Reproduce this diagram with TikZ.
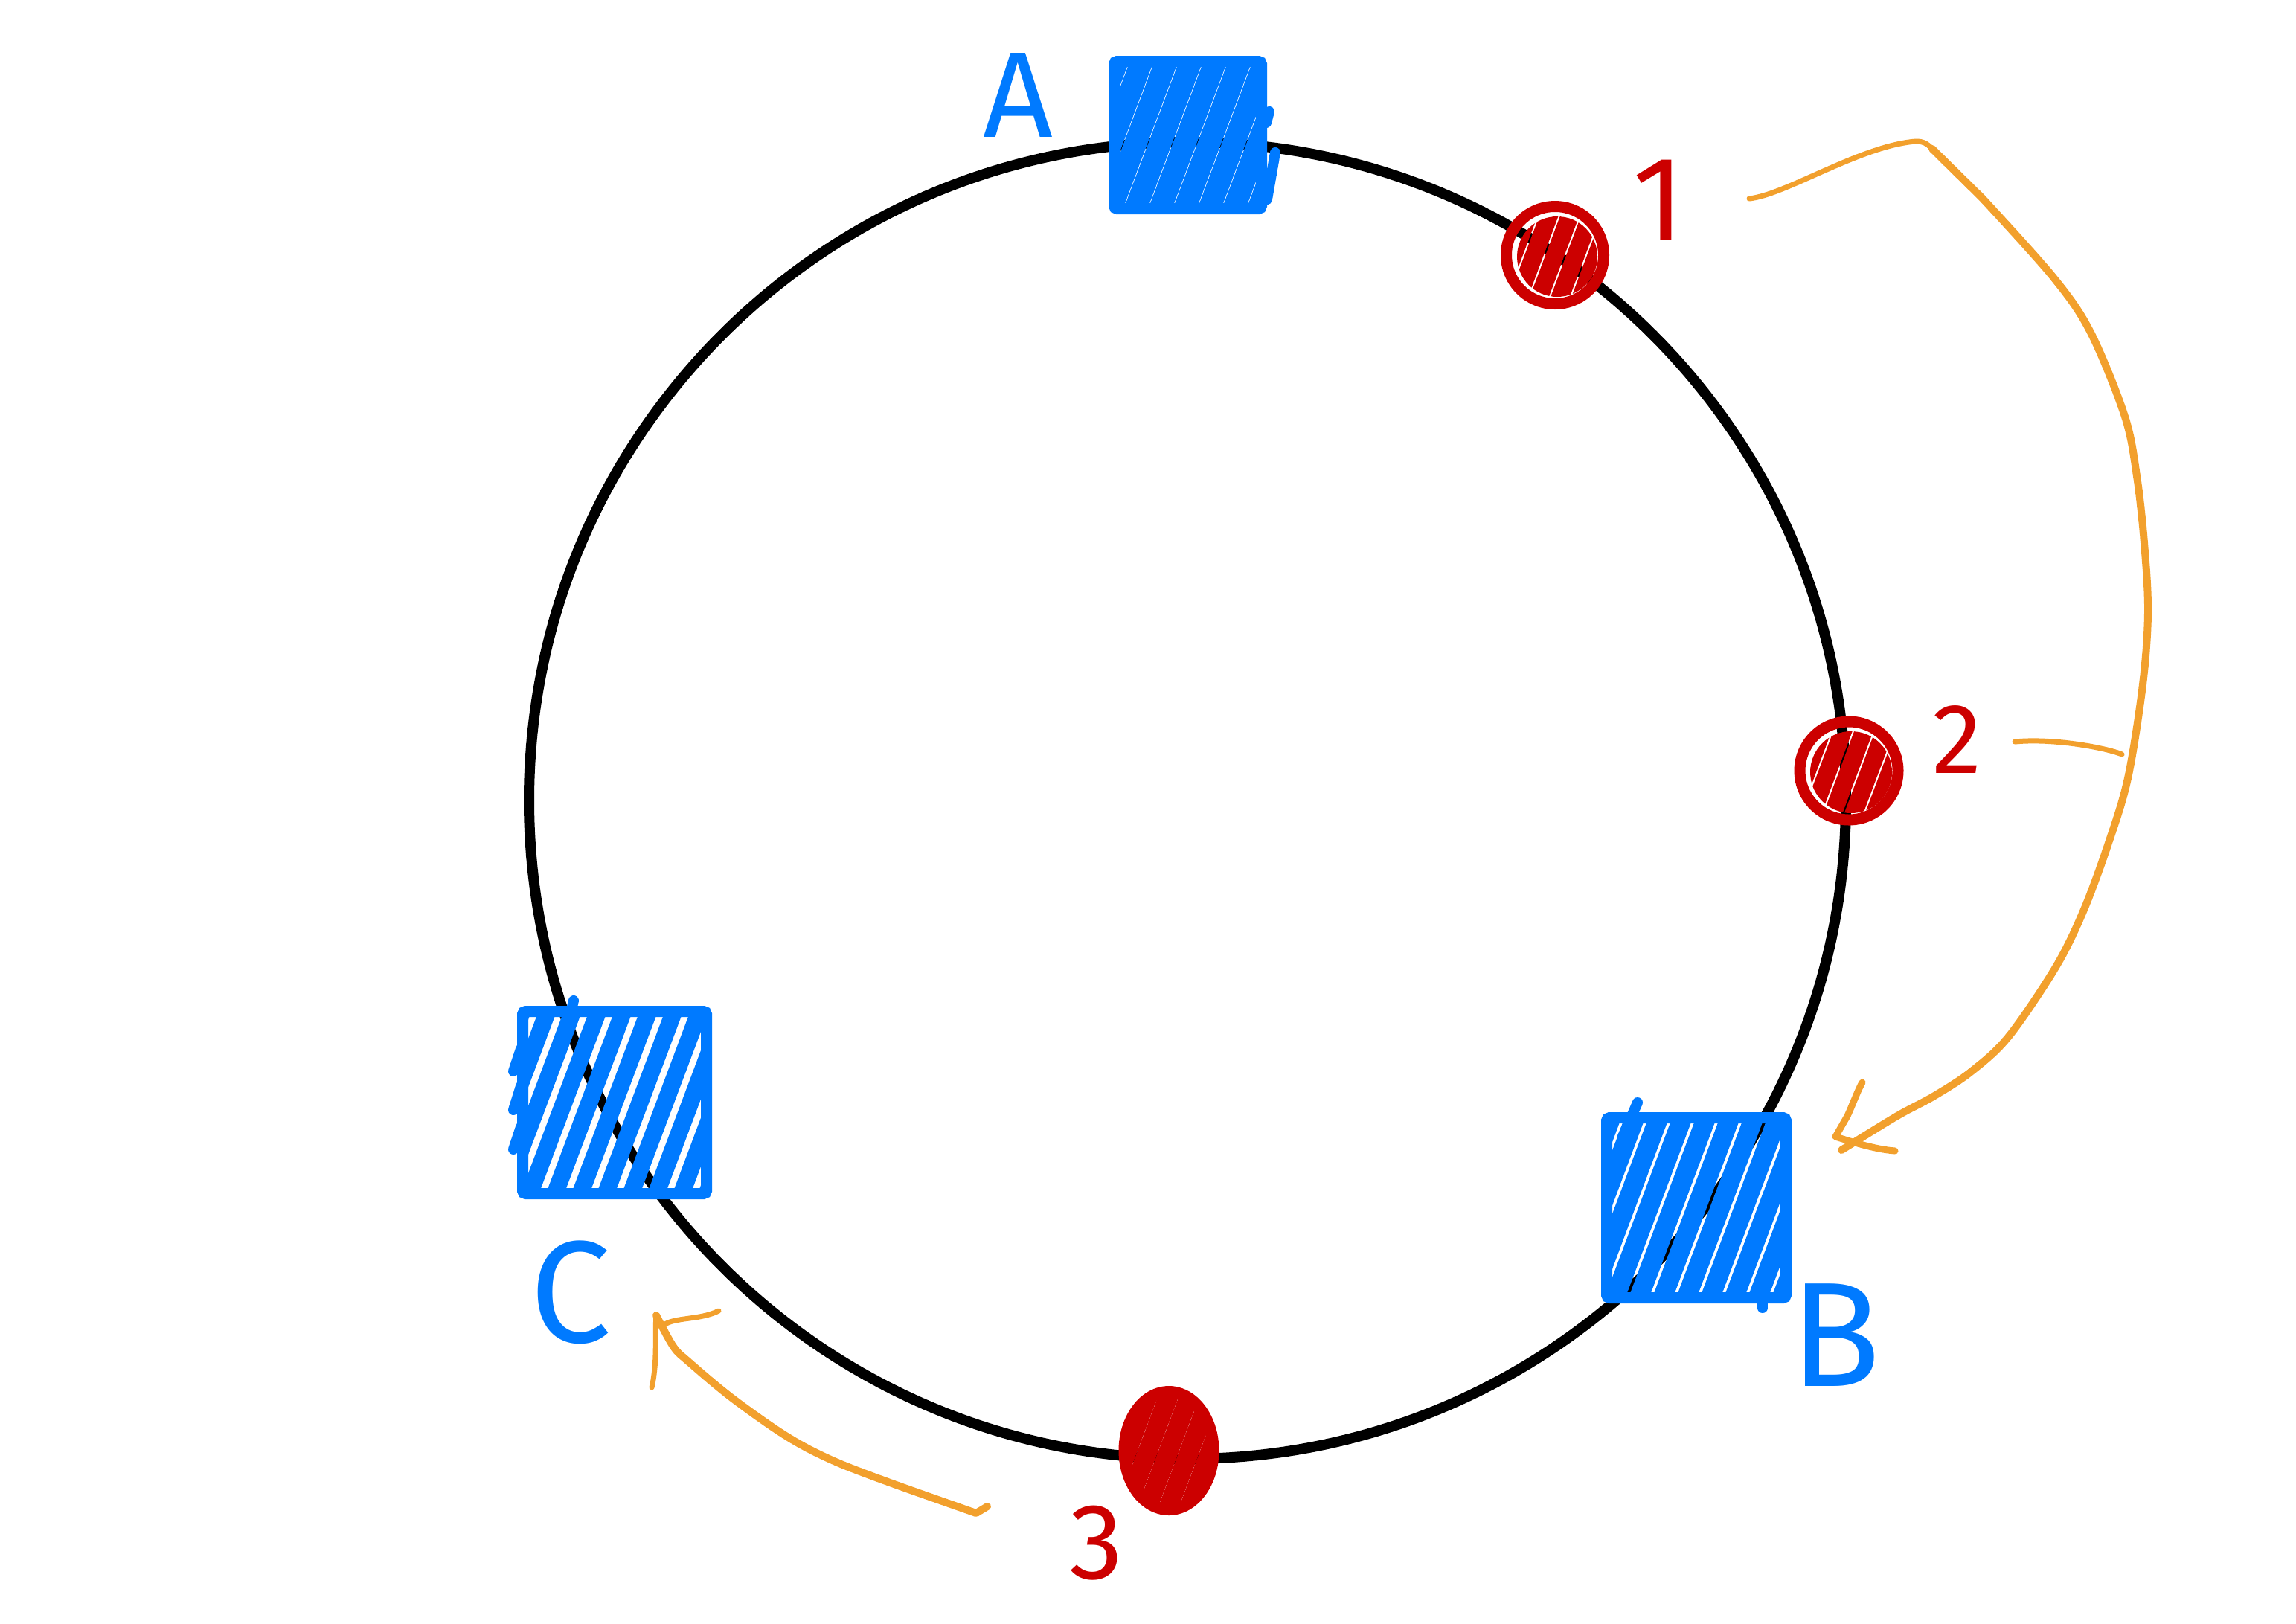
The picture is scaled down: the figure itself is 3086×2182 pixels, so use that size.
\documentclass[tikz,border=0pt]{standalone}
\usepackage{fontspec}
\setmainfont{Fira Sans}
\usetikzlibrary{shapes.geometric}
\definecolor{inkblue}{RGB}{0,122,255}
\definecolor{inkred}{RGB}{204,0,0}
\definecolor{inkorange}{RGB}{242,160,45}
\newcommand\inkhatch[3]{\begin{scope}[shift={(path picture bounding box.center)}]\foreach \k in {-12,...,12}{\draw[#1,line width=#2,line cap=round] ({\k*#3-60},160) -- ({\k*#3+60},-160);}\end{scope}}
\newcommand\inkhatchc[4]{\begin{scope}[shift={(path picture bounding box.center)}]\clip (3,2) circle (#4);\foreach \k in {-12,...,12}{\draw[#1,line width=#2,line cap=round] ({\k*#3-60},160) -- ({\k*#3+60},-160);}\end{scope}}
\begin{document}
\begin{tikzpicture}[x=1pt,y=-1pt,
  bluebox/.style={rectangle, draw=inkblue, line width=15pt, rounded corners=4pt, inner sep=0pt},
  redmark/.style={draw=inkred, line width=15pt, inner sep=0pt},
  lblue/.style={inner sep=0pt, text=inkblue},
  lred/.style={inner sep=0pt, text=inkred},
  orangeline/.style={draw=inkorange, line width=10pt, line cap=round, line join=round},
  blueink/.style={draw=inkblue, line width=14pt, line cap=round}]
\useasboundingbox (0,0) rectangle (3086,2182);
\fill[white] (0,0) rectangle (3086,2182);

% ring
\node[circle, draw=black, line width=14pt, minimum size=1770pt, inner sep=0pt] (ring) at (1596,1076) {};

% servers (blue boxes)
\node[bluebox, minimum width=198pt, minimum height=198pt,
  path picture={\inkhatch{inkblue}{30pt}{33}}] (A) at (1596.5,181.5) {};
\node[bluebox, minimum width=241pt, minimum height=242pt,
  path picture={\inkhatch{inkblue}{26pt}{32}}] (B) at (2280,1623.5) {};
\node[bluebox, minimum width=247pt, minimum height=245pt,
  path picture={\inkhatch{inkblue}{23pt}{34}}] (C) at (826,1482) {};

% stray scribble ends
\draw[blueink] (1706,150) -- (1702,165);
\draw[blueink] (1714,205) -- (1703,268);
\draw[blueink] (2201,1482) -- (2180,1530);
\draw[blueink] (2369,1740) -- (2369,1758);
\draw[blueink] (771,1345) -- (765,1370);
\draw[blueink] (690,1440) -- (700,1410);
\draw[blueink] (690,1492) -- (700,1460);
\draw[blueink] (690,1545) -- (700,1515);

% keys (red marks)
\node[redmark, circle, minimum size=131pt,
  path picture={\inkhatchc{inkred}{24pt}{28}{54}}] (n1) at (2090,343) {};
\node[redmark, circle, minimum size=132pt,
  path picture={\inkhatchc{inkred}{24pt}{28}{55}}] (n2) at (2485,1036) {};
\node[redmark, ellipse, line width=16pt, minimum width=119pt, minimum height=158pt,
  path picture={\inkhatch{inkred}{26pt}{28}}] (n3) at (1571,1950) {};

% labels
\node[lblue, font={\fontsize{164}{164}\selectfont}] (lA) at (1368,128) {A};
\node[lblue, font={\fontsize{200}{200}\selectfont}] (lB) at (2467,1795) {B};
\node[lblue, font={\fontsize{195}{195}\selectfont}] (lC) at (767,1737) {C};
\node[lred, font={\fontsize{162}{162}\selectfont}] (l1) at (2230,269) {1};
\node[lred, font={\fontsize{134}{134}\selectfont}] (l2) at (2631,994) {2};
\node[lred, font={\fontsize{145}{145}\selectfont}] (l3) at (1474,2074) {3};

% connector ends
\coordinate (o1s) at (2351,267);
\coordinate (o1t) at (2475,1546);
\coordinate (o2s) at (2708,997);
\coordinate (o2t) at (2852,1014);
\coordinate (o3s) at (1327,2025);
\coordinate (o3t) at (882,1768);

% arrow from 1 (and 2) to B
\draw[orangeline, line width=7pt] (o1s) .. controls (2400,262) and (2500,196) .. (2575,190)
  .. controls (2585,190) and (2590,193) .. (2597,200);
\draw[orangeline] (2597,200)
  -- plot[smooth, tension=0.55] coordinates {(2664,266) (2760,373) (2810,447) (2856,560) (2872,640) (2882,730) (2887,823) (2880,920) (2860,1046) (2833,1136) (2800,1225) (2763,1300) (2700,1393) (2650,1440) (2600,1473) (2550,1500) (o1t)};
\draw[orangeline, line width=9pt] (2503,1455) .. controls (2496,1468) and (2490,1485) .. (2483,1500) -- (2467,1528) .. controls (2490,1535) and (2520,1545) .. (2547,1547);
\draw[orangeline, line width=7pt] (o2s) .. controls (2760,992) and (2830,1005) .. (o2t);

% arrow from 3 to C
\draw[orangeline, line width=10pt] (o3s) -- (1312,2034)
  -- plot[smooth, tension=0.55] coordinates {(1224,2003) (1128,1967) (1061,1933) (985,1880) (925,1830) (905,1810) (o3t)};
\draw[orangeline, line width=7pt] (876,1865) .. controls (884,1830) and (880,1790) .. (o3t);
\draw[orangeline, line width=7pt] (891,1782) .. controls (905,1770) and (940,1775) .. (966,1762);
\end{tikzpicture}
\end{document}
